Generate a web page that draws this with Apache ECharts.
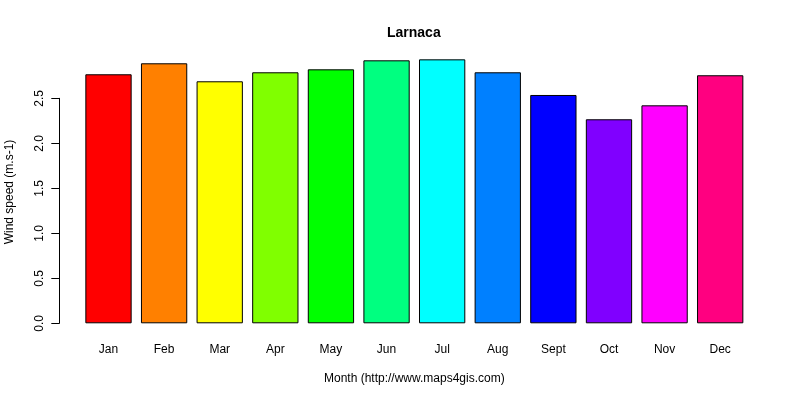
<!DOCTYPE html>
<html>
<head>
<meta charset="utf-8">
<script src="https://cdn.jsdelivr.net/npm/echarts@6/dist/echarts.min.js"></script>
<style>
  html, body { margin: 0; padding: 0; background: #fff; }
  #chart { width: 800px; height: 400px; }
</style>
</head>
<body>
<div id="chart"></div>
<script>
// monthly mean wind speed, Larnaca
var months = ['Jan', 'Feb', 'Mar', 'Apr', 'May', 'Jun', 'Jul', 'Aug', 'Sept', 'Oct', 'Nov', 'Dec'];
var windSpeed = [2.767, 2.889, 2.689, 2.789, 2.822, 2.922, 2.933, 2.789, 2.537, 2.267, 2.422, 2.756];
var barColors = ['#FF0000', '#FF8000', '#FFFF00', '#80FF00', '#00FF00', '#00FF80',
                 '#00FFFF', '#0080FF', '#0000FF', '#8000FF', '#FF00FF', '#FF0080'];

var font = 'Liberation Sans, Arial, sans-serif';

var chart = echarts.init(document.getElementById('chart'));

var barData = windSpeed.map(function (v, i) {
    return {
        value: v,
        itemStyle: { color: barColors[i] }
    };
});

var option = {
    backgroundColor: '#fff',
    animation: false,
    title: {
        text: 'Larnaca',
        left: 382,
        top: 21,
        textStyle: { fontFamily: font, fontSize: 14, fontWeight: 'bold', color: '#000' }
    },
    grid: [
        { left: 80.7, right: 52, top: 53.3, bottom: 76.7 },
        // only carries the R-style left axis (0 .. 2.5)
        { left: 59.3, width: 10, top: 98.3, bottom: 76.7 }
    ],
    xAxis: [
        {
            type: 'category',
            gridIndex: 0,
            data: months,
            axisLine: { show: false },
            axisTick: { show: false },
            axisLabel: { margin: 20, fontSize: 12, fontFamily: font, color: '#000' },
            name: 'Month (http://www.maps4gis.com)',
            nameLocation: 'middle',
            nameGap: 49,
            nameTextStyle: { fontSize: 12, fontFamily: font, color: '#000' }
        },
        { type: 'value', gridIndex: 1, show: false, min: 0, max: 1 }
    ],
    yAxis: [
        { type: 'value', gridIndex: 0, min: 0, max: 3, show: false },
        {
            type: 'value',
            gridIndex: 1,
            min: 0,
            max: 2.5,
            interval: 0.5,
            axisLine: { show: true, lineStyle: { color: '#000', width: 1 } },
            axisTick: { show: true, length: 8, lineStyle: { color: '#000' } },
            splitLine: { show: false },
            axisLabel: {
                rotate: 90,
                margin: 14,
                fontSize: 12,
                fontFamily: font,
                color: '#000',
                formatter: function (v) { return v.toFixed(1); }
            }
        }
    ],
    graphic: [
        {
            type: 'text',
            x: 10,
            y: 192,
            rotation: Math.PI / 2,
            style: {
                text: 'Wind speed (m.s-1)',
                font: '12px ' + font,
                fill: '#000',
                align: 'center',
                verticalAlign: 'middle'
            }
        }
    ],
    series: [
        {
            type: 'bar',
            xAxisIndex: 0,
            yAxisIndex: 0,
            barWidth: 46.3,
            itemStyle: { borderColor: '#000', borderWidth: 1 },
            data: barData
        }
    ]
};

chart.setOption(option);
</script>
</body>
</html>
